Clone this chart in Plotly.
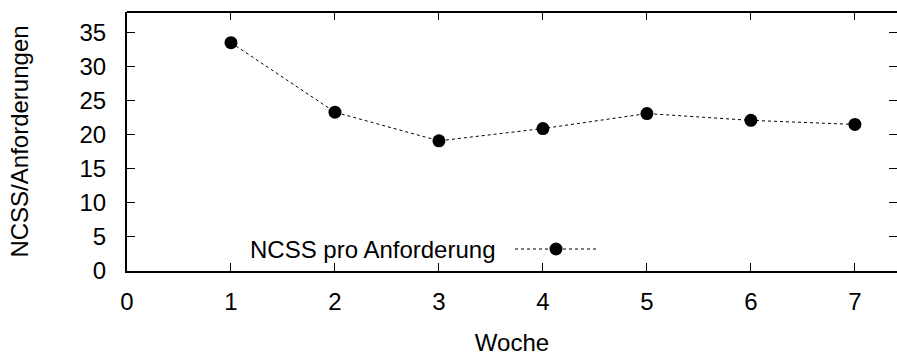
import plotly.graph_objects as go

# Weekly NCSS per request
woche = [1, 2, 3, 4, 5, 6, 7]
ncss_pro_anforderung = [33.5, 23.3, 19.1, 20.9, 23.1, 22.1, 21.5]
x_ticks = [0, 1, 2, 3, 4, 5, 6, 7]
y_ticks = [0, 5, 10, 15, 20, 25, 30, 35]
legend_label = "NCSS pro Anforderung"

FONT = "Liberation Sans, Arial, sans-serif"
FS = 24

fig = go.Figure()

fig.add_trace(go.Scatter(
    x=woche, y=ncss_pro_anforderung, mode="lines+markers",
    line=dict(color="black", width=1, dash="dot"),
    marker=dict(color="black", size=13, symbol="circle"),
    showlegend=False,
))

# Key sample: dotted line with a marker, on a helper axis spanning the paper
fig.add_trace(go.Scatter(
    x=[0, 1], y=[0.5, 0.5], mode="lines",
    line=dict(color="black", width=1, dash="dot"),
    xaxis="x2", yaxis="y3", showlegend=False, hoverinfo="skip",
))
fig.add_trace(go.Scatter(
    x=[0.5], y=[0.5], mode="markers",
    marker=dict(color="black", size=13),
    xaxis="x2", yaxis="y3", showlegend=False, hoverinfo="skip",
))

axis_common = dict(
    ticks="inside", ticklen=8, tickwidth=1.2, tickcolor="black",
    showgrid=False, zeroline=False,
    tickfont=dict(family=FONT, size=FS, color="black"),
)

fig.update_layout(
    width=897, height=356,
    margin=dict(l=127, r=0, t=12, b=85),
    paper_bgcolor="white", plot_bgcolor="white",
    font=dict(family=FONT, size=FS, color="black"),
    xaxis=dict(
        range=[0, 7.405], tickvals=x_ticks, showline=True, linecolor="black",
        linewidth=2, ticklabelstandoff=8,
        title=dict(text="Woche", standoff=20, font=dict(family=FONT, size=FS)),
        **axis_common,
    ),
    yaxis=dict(
        range=[0, 38], tickvals=y_ticks, showline=True, linecolor="black",
        linewidth=2, ticklabelstandoff=14,
        title=dict(text="NCSS/Anforderungen", standoff=44,
                   font=dict(family=FONT, size=FS)),
        **axis_common,
    ),
    yaxis2=dict(
        overlaying="y", side="right", range=[0, 38], tickvals=y_ticks,
        showticklabels=False, showline=False, ticks="inside", ticklen=8,
        tickwidth=1.2, tickcolor="black", showgrid=False, zeroline=False,
    ),
    xaxis2=dict(domain=[(515 - 127) / 770, (597 - 127) / 770], range=[0, 1],
                visible=False, anchor="y3"),
    yaxis3=dict(domain=[1 - (249 + 8 - 12) / 259, 1 - (249 - 8 - 12) / 259],
                range=[0, 1], visible=False, anchor="x2"),
    annotations=[dict(
        text=legend_label, xref="paper", yref="paper",
        x=(497 - 127) / 770, y=1 - (249 - 12) / 259,
        xanchor="right", yanchor="middle", showarrow=False,
        font=dict(family=FONT, size=FS, color="black"),
    )],
    shapes=[dict(type="line", xref="paper", yref="paper",
                 x0=0, x1=1, y0=1, y1=1, line=dict(color="black", width=2))],
)

# Top ticks via a mirrored helper axis
fig.update_layout(xaxis3=dict(
    overlaying="x", side="top", range=[0, 7.405], tickvals=x_ticks,
    showticklabels=False, showline=False, ticks="inside", ticklen=8,
    tickwidth=1.2, tickcolor="black", showgrid=False, zeroline=False,
))
fig.add_trace(go.Scatter(x=[None], y=[None], xaxis="x3", yaxis="y2",
                         showlegend=False, hoverinfo="skip"))

fig.write_html("out.html")
